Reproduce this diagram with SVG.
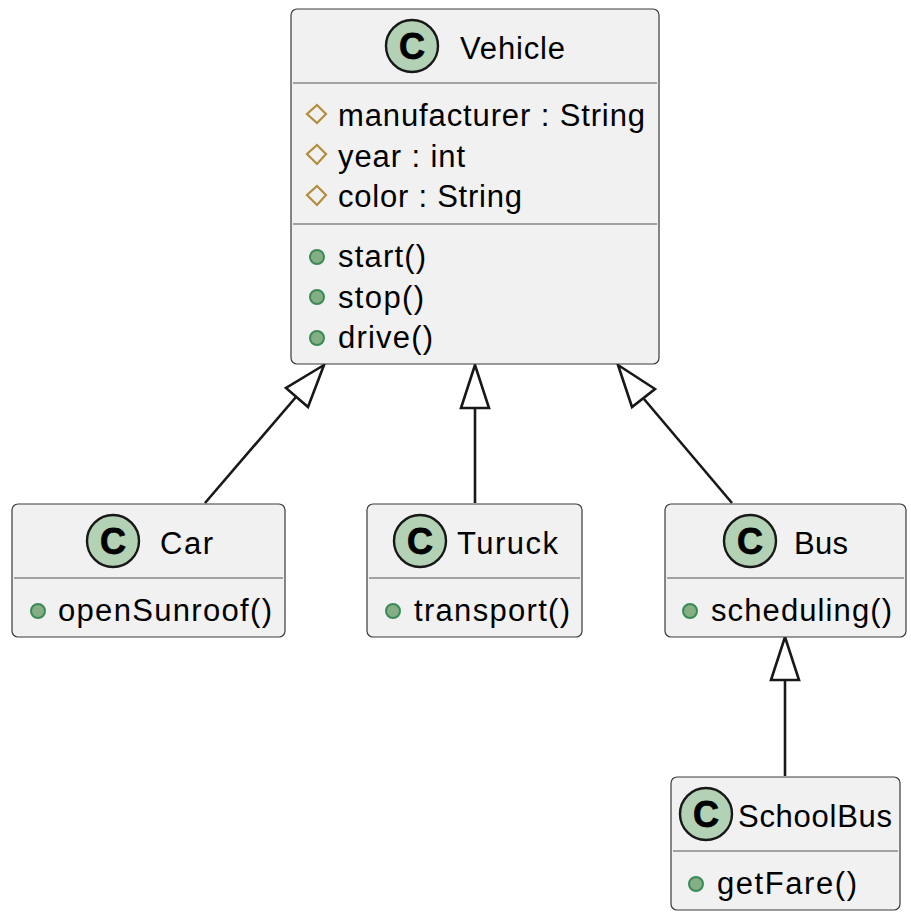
<svg xmlns="http://www.w3.org/2000/svg" width="911" height="915" viewBox="0 0 911 915">
<style>
.box{fill:#f1f1f1;stroke:#3a3a3a;stroke-width:1.2}
.sep{stroke:#555;stroke-width:1.2}
.spot{fill:#b3d1b5;stroke:#181818;stroke-width:2.4}
text.c{font:bold 36px "Liberation Sans",Arial,sans-serif;fill:#000;stroke:#000;stroke-width:.8;text-anchor:middle}
text{font-family:"Liberation Sans",Arial,sans-serif;font-size:31px;fill:#000}
.pub{fill:#84ae84;stroke:#3a8a58;stroke-width:2}
.prot{fill:none;stroke:#b38d3b;stroke-width:2.2}
.ln{fill:none;stroke:#181818;stroke-width:2.6}
.hd{fill:#fff;stroke:#181818;stroke-width:2.6}
</style>
<g id="connectors">
<path class="ln" d="M205 503L296 397"/><path class="hd" d="M324 365L286 388L308 407Z"/>
<path class="ln" d="M475 503V408"/><path class="hd" d="M475 365L461 408H489Z"/>
<path class="ln" d="M732 503L644 399"/><path class="hd" d="M618 365L632 407L655 389Z"/>
<path class="ln" d="M785 776V680"/><path class="hd" d="M785 637L771 680H799Z"/>
</g>
<g id="Vehicle">
<rect class="box" x="291" y="9" width="368" height="355" rx="6"/>
<circle class="spot" cx="412" cy="46" r="26"/><text class="c" x="412" y="59">C</text>
<text x="460" y="59" textLength="105">Vehicle</text>
<path class="sep" d="M293 83H657M293 224H657"/>
<path class="prot" d="M317 105L326 114L317 123L307 114Z"/><text x="338" y="126" textLength="307">manufacturer : String</text>
<path class="prot" d="M317 145L326 154L317 164L307 154Z"/><text x="338" y="167" textLength="127">year : int</text>
<path class="prot" d="M317 186L326 195L317 205L307 195Z"/><text x="338" y="207" textLength="184">color : String</text>
<circle class="pub" cx="317" cy="257" r="7"/><text x="338" y="267" textLength="88">start()</text>
<circle class="pub" cx="317" cy="297" r="7"/><text x="338" y="308" textLength="86">stop()</text>
<circle class="pub" cx="317" cy="338" r="7"/><text x="338" y="348" textLength="95">drive()</text>
</g>
<g id="Car">
<rect class="box" x="12" y="504" width="273" height="133" rx="6"/>
<circle class="spot" cx="113" cy="541" r="26"/><text class="c" x="113" y="554">C</text>
<text x="160" y="554" textLength="53">Car</text>
<path class="sep" d="M14 578H283"/>
<circle class="pub" cx="38" cy="611" r="7"/><text x="58" y="621" textLength="214">openSunroof()</text>
</g>
<g id="Turuck">
<rect class="box" x="367" y="504" width="215" height="133" rx="6"/>
<circle class="spot" cx="420" cy="541" r="26"/><text class="c" x="420" y="554">C</text>
<text x="457" y="554" textLength="101">Turuck</text>
<path class="sep" d="M369 578H580"/>
<circle class="pub" cx="393" cy="611" r="7"/><text x="414" y="621" textLength="156">transport()</text>
</g>
<g id="Bus">
<rect class="box" x="665" y="504" width="241" height="133" rx="6"/>
<circle class="spot" cx="750" cy="541" r="26"/><text class="c" x="750" y="554">C</text>
<text x="794" y="554" textLength="54">Bus</text>
<path class="sep" d="M667 578H904"/>
<circle class="pub" cx="690" cy="611" r="7"/><text x="711" y="621" textLength="181">scheduling()</text>
</g>
<g id="SchoolBus">
<rect class="box" x="671" y="777" width="229" height="133" rx="6"/>
<circle class="spot" cx="706" cy="814" r="26"/><text class="c" x="706" y="827">C</text>
<text x="738" y="827" textLength="154">SchoolBus</text>
<path class="sep" d="M673 851H898"/>
<circle class="pub" cx="696" cy="884" r="7"/><text x="717" y="894" textLength="140">getFare()</text>
</g>
</svg>
